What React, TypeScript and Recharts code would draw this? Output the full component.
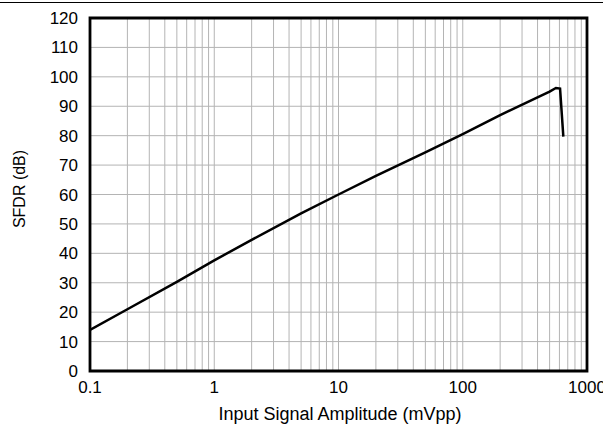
import { LineChart, Line, XAxis, YAxis, CartesianGrid, ReferenceArea } from 'recharts';

// SFDR vs input amplitude (log x)
const amplitude = [0.1, 0.2, 0.5, 1, 2, 5, 10, 20, 50, 100, 200, 500, 562, 607, 645];
const sfdr = [14, 21, 30.3, 37.6, 44.6, 53.6, 60, 66.3, 74.3, 80.5, 87, 95, 96.2, 96, 79.7];

const decades = [0.1, 1, 10, 100];
const minorSteps = [1, 2, 3, 4, 5, 6, 7, 8, 9];
const xTicks = [...decades.flatMap((d) => minorSteps.map((m) => d * m)), 1000];
const decadeLabels = ['0.1', '1', '10', '100', '1000'];
const yTicks = [0, 10, 20, 30, 40, 50, 60, 70, 80, 90, 100, 110, 120];

const data = amplitude.map((a, i) => ({ amp: a, sfdr: sfdr[i] }));

const FONT = '"Liberation Sans", Arial, Helvetica, sans-serif';

const formatX = (v: number) => {
  const hit = [0.1, 1, 10, 100, 1000].findIndex((d) => Math.abs(v - d) < d * 1e-6);
  return hit >= 0 ? decadeLabels[hit] : '';
};

export default function App() {
  return (
    <div style={{ position: 'absolute', left: 0, top: 0, width: 603, height: 424, background: '#fff', fontFamily: FONT }}>
      <div style={{ position: 'absolute', left: 0, top: 2, width: 603, height: 1, background: '#000' }} />
      <LineChart width={603} height={424} data={data} margin={{ top: 18, right: 16, left: 0, bottom: 0 }}>
        <CartesianGrid stroke="#b4b4b4" strokeWidth={1} />
        <XAxis
          dataKey="amp"
          type="number"
          scale="log"
          domain={[0.1, 1000]}
          ticks={xTicks}
          interval={0}
          allowDataOverflow
          tickFormatter={formatX}
          tickLine={false}
          axisLine={false}
          tickSize={0}
          tickMargin={10}
          height={53}
          tick={{ fontSize: 17, fill: '#000', fontFamily: FONT }}
          label={{
            content: () => (
              <text x={340} y={420} textAnchor="middle" fontSize={18} fill="#000" fontFamily={FONT}>
                Input Signal Amplitude (mVpp)
              </text>
            ),
          }}
        />
        <YAxis
          type="number"
          domain={[0, 120]}
          ticks={yTicks}
          interval={0}
          width={90}
          tickLine={false}
          axisLine={false}
          tickSize={0}
          tickMargin={12}
          tick={{ fontSize: 17, fill: '#000', fontFamily: FONT }}
          label={{
            content: () => (
              <text x={25} y={189} transform="rotate(-90, 25, 189)" textAnchor="middle" fontSize={16} fill="#000" fontFamily={FONT}>
                SFDR (dB)
              </text>
            ),
          }}
        />
        <Line
          type="linear"
          dataKey="sfdr"
          stroke="#000"
          strokeWidth={2.5}
          dot={false}
          isAnimationActive={false}
        />
        <ReferenceArea x1={0.1} x2={1000} y1={0} y2={120} fill="none" stroke="#000" strokeWidth={2.8} ifOverflow="visible" />
      </LineChart>
    </div>
  );
}
